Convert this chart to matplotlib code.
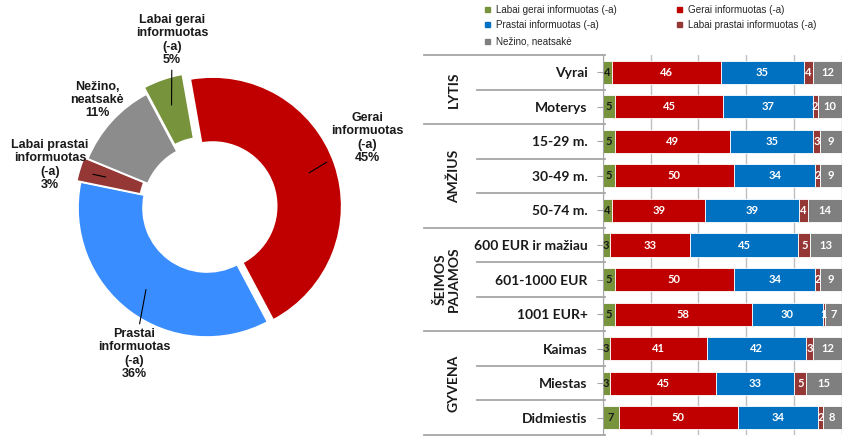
import matplotlib
matplotlib.use('Agg')
import matplotlib.pyplot as plt
import matplotlib.transforms as mtransforms
from matplotlib.patches import Rectangle
import numpy as np

W, H, DPI = 850, 436, 100

# ---------------- data ----------------
series_names = ['Labai gerai informuotas (-a)', 'Gerai informuotas (-a)',
                'Prastai informuotas (-a)', 'Labai prastai informuotas (-a)',
                'Nežino, neatsakė']
donut_names = ['Labai gerai\ninformuotas\n(-a)', 'Gerai\ninformuotas\n(-a)',
               'Prastai\ninformuotas\n(-a)', 'Labai prastai\ninformuotas\n(-a)',
               'Nežino,\nneatsakė']
donut_values = [5, 45, 36, 3, 11]

categories = ['Vyrai', 'Moterys', '15-29 m.', '30-49 m.', '50-74 m.',
              '600 EUR ir mažiau', '601-1000 EUR', '1001 EUR+',
              'Kaimas', 'Miestas', 'Didmiestis']
groups = [('LYTIS', 0, 1), ('AMŽIUS', 2, 4), ('ŠEIMOS\nPAJAMOS', 5, 7), ('GYVENA', 8, 10)]

labai_gerai   = [4, 5, 5, 5, 4, 3, 5, 5, 3, 3, 7]
gerai         = [46, 45, 49, 50, 39, 33, 50, 58, 41, 45, 50]
prastai       = [35, 37, 35, 34, 39, 45, 34, 30, 42, 33, 34]
labai_prastai = [4, 2, 3, 2, 4, 5, 2, 1, 3, 5, 2]
nezino        = [12, 10, 9, 9, 14, 13, 9, 7, 12, 15, 8]

bar_colors = ['#77933C', '#C00000', '#0070C0', '#953735', '#7F7F7F']
donut_colors = ['#77933C', '#C00000', '#3A8DFF', '#953735', '#8C8C8C']

fig = plt.figure(figsize=(W / DPI, H / DPI), dpi=DPI)

# ---------------- donut ----------------
axd = fig.add_axes([0, 0, 420 / W, 1])
cx, cy, R = 207, H - 208, 129
wedges, _ = axd.pie(donut_values, colors=donut_colors, startangle=118,
                    counterclock=False, center=(cx, cy), radius=R,
                    explode=[7, 6, 0, 4, 0],
                    wedgeprops=dict(width=65, edgecolor='white', linewidth=1.2))
axd.set_xlim(0, 420)
axd.set_ylim(0, H)
axd.set_aspect('equal')
axd.axis('off')

label_pos = [(172, 40), (367, 138), (134, 354), (50, 165), (97, 100)]
leader = [True, True, True, True, False]
for w, name, v, (lx, ly), ld in zip(wedges, donut_names, donut_values, label_pos, leader):
    txt = f'{name}\n{v}%'
    if ld:
        tm = np.deg2rad((w.theta1 + w.theta2) / 2)
        px = w.center[0] + 0.79 * R * np.cos(tm)
        py = w.center[1] + 0.79 * R * np.sin(tm)
        axd.annotate(txt, xy=(px, py), xytext=(lx, H - ly), ha='center', va='center',
                     fontsize=9, fontweight='bold', family='Liberation Sans',
                     linespacing=1.15, color='#1a1a1a',
                     arrowprops=dict(arrowstyle='-', color='black', lw=0.8,
                                     shrinkA=1, shrinkB=0))
    else:
        axd.text(lx, H - ly, txt, ha='center', va='center', fontsize=9,
                 fontweight='bold', family='Liberation Sans', linespacing=1.15,
                 color='#1a1a1a')

# ---------------- stacked bars ----------------
axb = fig.add_axes([602.7 / W, 1 - 435 / H, 239 / W, 380 / H])
data = np.array([labai_gerai, gerai, prastai, labai_prastai, nezino], dtype=float).T
pct = data / data.sum(axis=1, keepdims=True) * 100
ypos = np.arange(len(categories))
left = np.zeros(len(categories))
for j in range(data.shape[1]):
    axb.barh(ypos, pct[:, j], left=left, height=0.67, color=bar_colors[j],
             edgecolor='white', linewidth=0.6, zorder=2)
    for i in range(len(categories)):
        tc = '#1a1a1a' if j == 0 else 'white'
        axb.text(left[i] + pct[i, j] / 2, ypos[i], f'{int(data[i, j])}',
                 ha='center', va='center', fontsize=8, fontweight='bold',
                 family='Lato', color=tc, zorder=3)
    left += pct[:, j]

axb.set_xlim(0, 100)
axb.set_ylim(len(categories) - 0.5, -0.5)
axb.set_xticks([0, 20, 40, 60, 80, 100])
axb.xaxis.grid(True, color='#BFBFBF', lw=1)
axb.set_axisbelow(True)
axb.tick_params(axis='x', bottom=False, labelbottom=False)
axb.set_yticks(ypos)
axb.set_yticklabels(categories, fontsize=10, fontweight='bold', family='Lato',
                    color='#1a1a1a')
axb.tick_params(axis='y', length=4, color='#A6A6A6', pad=7)
for s in ['top', 'right', 'bottom']:
    axb.spines[s].set_visible(False)
axb.spines['left'].set_color('#A6A6A6')

# table lines and group labels
trans = mtransforms.blended_transform_factory(fig.transFigure, axb.transData)
for gname, g0, g1 in groups:
    axb.plot([424 / W, 605 / W], [g0 - 0.5, g0 - 0.5], transform=trans, color='#A6A6A6',
             lw=1.3, clip_on=False)
    for k in range(g0, g1):
        axb.plot([477 / W, 605 / W], [k + 0.5, k + 0.5], transform=trans, color='#A6A6A6',
                 lw=1.3, clip_on=False)
    axb.text(460 / W, (g0 + g1) / 2, gname, transform=trans, rotation=90, ha='right',
             va='center', fontsize=10, fontweight='bold', family='Lato',
             color='#1a1a1a', linespacing=1.1, multialignment='center')
axb.plot([424 / W, 605 / W], [len(categories) - 0.5] * 2, transform=trans,
         color='#A6A6A6', lw=1.3, clip_on=False)

# ---------------- legend ----------------
axo = fig.add_axes([0, 0, 1, 1])
axo.set_xlim(0, W)
axo.set_ylim(H, 0)
axo.axis('off')
leg_pos = [(488, 10), (680, 10), (488, 25), (680, 25), (488, 42)]
for (lx, ly), name, col in zip(leg_pos, series_names, bar_colors):
    axo.add_patch(Rectangle((lx - 2.5, ly - 2.5), 5, 5, color=col))
    axo.text(lx + 8, ly, name, va='center', ha='left', fontsize=7.1,
             family='Liberation Sans', color='#262626')

fig.savefig('out.png', dpi=DPI)
